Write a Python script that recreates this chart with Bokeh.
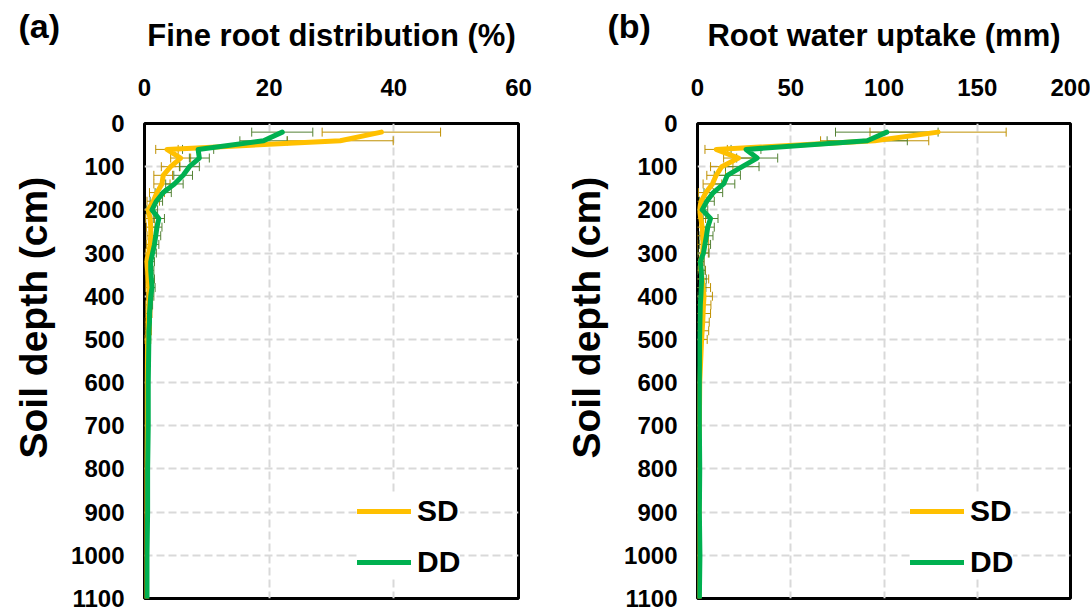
from bokeh.plotting import figure
from bokeh.layouts import row
from bokeh.models import (Range1d, FixedTicker, Whisker, TeeHead, ColumnDataSource,
                          Legend, LegendItem, Title)
from bokeh.embed import file_html
from bokeh.resources import INLINE

# ---------------- data ----------------
depth = [20, 40, 60, 80, 100, 120, 140, 160, 180, 200, 220, 240, 260, 280, 300,
         320, 340, 360, 380, 400, 420, 440, 460, 480, 500, 600, 700, 800, 900, 1000, 1100]

# (a) fine root distribution (%)
root_sd = [38.0, 31.4, 3.6, 5.8, 4.2, 3.0, 2.8, 2.0, 1.4, 0.6, 0.9, 1.0, 1.0, 0.9, 0.7,
           0.3, 0.5, 0.6, 0.7, 0.8, 0.7, 0.7, 0.6, 0.6, 0.5, 0.4, 0.4, 0.3, 0.3, 0.3, 0.3]
root_sd_err = [9.5, 8.5, 1.8, 1.6, 1.5, 1.5, 1.3, 1.2, 1.0, 0.8, 0.7, 0.7, 0.6, 0.6, 0.5,
               0.4, 0.4, 0.4, 0.5, 0.5, 0.5, 0.5, 0.5, 0.5, 0.5, 0, 0, 0, 0, 0, 0]
root_dd = [22.1, 19.1, 8.6, 8.8, 7.2, 6.2, 4.8, 3.0, 1.9, 1.2, 2.3, 2.0, 1.8, 1.6, 1.3,
           1.0, 1.0, 1.1, 1.2, 1.0, 0.9, 0.8, 0.8, 0.7, 0.7, 0.6, 0.6, 0.5, 0.5, 0.4, 0.4]
root_dd_err = [4.9, 3.8, 2.5, 1.6, 1.6, 1.5, 1.4, 1.3, 1.0, 0.9, 0.9, 0.8, 0.8, 0.7, 0.6,
               0.6, 0.5, 0.5, 0.5, 0.5, 0.4, 0, 0, 0, 0, 0, 0, 0, 0, 0, 0]

# (b) root water uptake (mm)
rwu_sd = [129, 95, 10, 22, 13, 10, 8, 4.5, 2, 0.8, 1.8, 2.5, 2.8, 3.0, 2.8,
          1.5, 1.8, 2.5, 3.0, 3.5, 3.2, 3.0, 2.8, 2.5, 2.2, 1.2, 1.0, 0.8, 0.8, 0.8, 0.8]
rwu_sd_err = [36.5, 29, 6, 8, 6, 5, 5, 4, 3, 2.5, 2.5, 3, 3, 3, 3,
              2, 2.5, 3.5, 4, 4.5, 4, 4, 3.5, 3.5, 3, 0, 0, 0, 0, 0, 0]
rwu_dd = [101.5, 91, 26, 32, 24, 16, 14, 8.5, 5, 2.5, 7, 5.5, 4.8, 4.0, 3.2,
          1.5, 2.0, 2.2, 2.0, 1.8, 1.5, 1.4, 1.3, 1.2, 1.1, 1.0, 1.0, 1.2, 1.0, 1.3, 1.0]
rwu_dd_err = [27.5, 21.5, 8, 11, 9, 7, 6, 5, 4, 3, 4, 3.5, 3.5, 3, 3,
              2, 2, 2.5, 2.5, 2, 0, 0, 0, 0, 0, 0, 0, 0, 0, 0, 0]

series_names = ["SD", "DD"]
depth_ticks = [0, 100, 200, 300, 400, 500, 600, 700, 800, 900, 1000, 1100]
ticks_a = [0, 20, 40, 60]
ticks_b = [0, 50, 100, 150, 200]

SD_COLOR = "#FFC000"
DD_COLOR = "#00B050"
SD_ERR = "#BF9000"
DD_ERR = "#548235"
FONT = "Liberation Sans"
NB = "\u00a0"


def err_source(vals, errs):
    d, lo, hi = [], [], []
    for dp, v, e in zip(depth, vals, errs):
        if e > 0:
            d.append(dp)
            lo.append(v - e)
            hi.append(v + e)
    return ColumnDataSource(dict(depth=d, lo=lo, hi=hi))


def panel(title, tag, xmax, xticks, sd, sd_err, dd, dd_err, width, border_left,
          border_right, tag_offset):
    p = figure(width=width, height=611, output_backend="svg", toolbar_location=None,
               x_range=Range1d(0, xmax), y_range=Range1d(1100, 0),
               x_axis_location="above",
               min_border_left=border_left, min_border_right=border_right,
               min_border_top=123, min_border_bottom=13)
    p.outline_line_color = "black"
    p.outline_line_width = 3
    p.background_fill_color = "white"
    p.border_fill_color = "white"

    for ax in (p.xaxis[0], p.yaxis[0]):
        ax.axis_line_color = None
        ax.major_tick_line_color = None
        ax.minor_tick_line_color = None
        ax.major_tick_in = 0
        ax.major_tick_out = 0
        ax.major_label_text_font = FONT
        ax.major_label_text_font_style = "bold"
        ax.major_label_text_font_size = "24px"
        ax.major_label_text_color = "black"
        ax.axis_label_text_font = FONT
        ax.axis_label_text_font_style = "bold"
        ax.axis_label_text_color = "black"

    p.xaxis.ticker = FixedTicker(ticks=xticks)
    p.yaxis.ticker = FixedTicker(ticks=depth_ticks)
    p.xaxis.major_label_standoff = 28
    p.yaxis.major_label_standoff = 20
    p.xaxis.axis_label = title
    p.xaxis.axis_label_text_font_size = "31px"
    p.xaxis.axis_label_standoff = 23
    p.yaxis.axis_label = NB * 8 + "Soil depth (cm)"
    p.yaxis.axis_label_text_font_size = "39px"
    p.yaxis.axis_label_standoff = 13

    for g in (p.xgrid[0], p.ygrid[0]):
        g.grid_line_color = "#D9D9D9"
        g.grid_line_width = 2
        g.grid_line_dash = "8 4"

    src = ColumnDataSource(dict(depth=depth, sd=sd, dd=dd))
    r_sd = p.line(x="sd", y="depth", source=src, line_color=SD_COLOR, line_width=5,
                  line_join="round", line_cap="round")
    r_dd = p.line(x="dd", y="depth", source=src, line_color=DD_COLOR, line_width=5,
                  line_join="round", line_cap="round")

    for vals, errs, col in ((sd, sd_err, SD_ERR), (dd, dd_err, DD_ERR)):
        w = Whisker(base="depth", lower="lo", upper="hi", dimension="width",
                    source=err_source(vals, errs), line_color=col, line_width=1,
                    upper_head=TeeHead(size=9, line_color=col, line_width=1),
                    lower_head=TeeHead(size=9, line_color=col, line_width=1))
        p.add_layout(w)

    legend = Legend(items=[LegendItem(label=series_names[0], renderers=[r_sd]),
                           LegendItem(label=series_names[1], renderers=[r_dd])],
                    location=(213, 19), border_line_color=None,
                    background_fill_color="white", background_fill_alpha=1,
                    label_text_font=FONT, label_text_font_style="bold",
                    label_text_color="black",
                    label_text_font_size="30px", glyph_width=54, glyph_height=30,
                    label_height=30, spacing=17, padding=0, margin=0, label_standoff=6)
    p.add_layout(legend)

    p.add_layout(Title(text=tag, align="left", offset=tag_offset, standoff=-60,
                       vertical_align="bottom", text_font=FONT, text_font_style="bold",
                       text_font_size="34px", text_color="black"), "above")
    return p


pa = panel("Fine root distribution (%)", "(a)", 60, ticks_a, root_sd, root_sd_err,
           root_dd, root_dd_err, 549, 144, 31, -126)
pb = panel("Root water uptake (mm)", "(b)", 200, ticks_b, rwu_sd, rwu_sd_err,
           rwu_dd, rwu_dd_err, 541, 148, 20, -90)

layout = row(pa, pb)
open("out.html", "w").write(file_html(layout, INLINE))
